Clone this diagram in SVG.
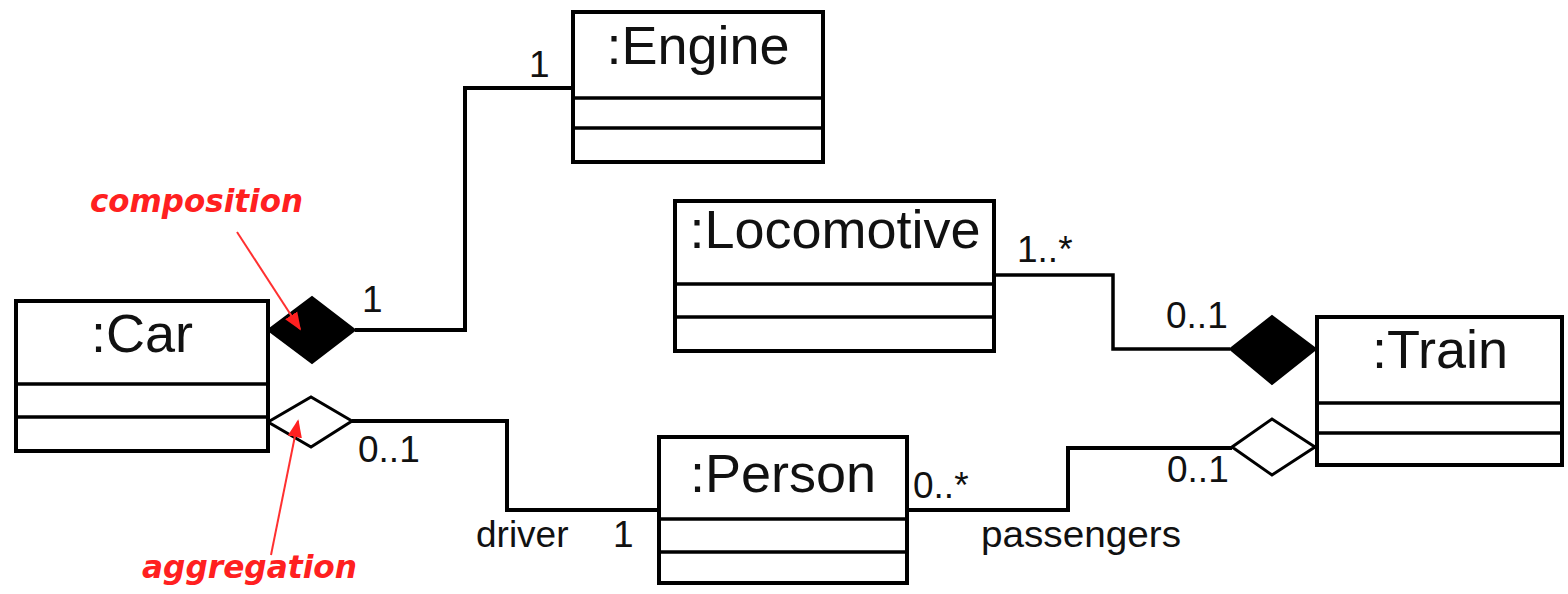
<svg xmlns="http://www.w3.org/2000/svg" width="1568" height="594" viewBox="0 0 1568 594">
<style>
.box{fill:#fff;stroke:#000;stroke-width:4}
.sep{stroke:#000;stroke-width:3.5}
.name{font-family:"Liberation Sans",Arial,sans-serif;font-size:54px;fill:#111;text-anchor:middle}
.lbl{font-family:"Liberation Sans",Arial,sans-serif;font-size:37px;fill:#111}
.conn{fill:none;stroke:#000;stroke-width:4;stroke-linejoin:miter}
.fd{fill:#000;stroke:#000;stroke-width:2}
.od{fill:#fff;stroke:#000;stroke-width:3}
.note{font-family:"Comic Sans MS","DejaVu Sans",sans-serif;font-weight:bold;font-style:italic;font-size:32px;fill:#ff2020}
.arrow{stroke:#ff3030;stroke-width:2;fill:none}
</style>
<defs>
<marker id="rhl" viewBox="0 0 10 10" refX="9" refY="5" markerWidth="18" markerHeight="18" markerUnits="userSpaceOnUse" orient="auto">
<path d="M0,1 L10,5 L0,9 z" fill="#ff2020"/>
</marker>
</defs>
<rect width="1568" height="594" fill="#fff"/>

<g id="connectors">
<polyline class="conn" points="355,330 465,330 465,88 573,88"/>
<polyline class="conn" points="352,421 507,421 507,510 659,510"/>
<polyline class="conn" style="stroke-width:3.5" points="994,275 1113,275 1113,349 1230,349"/>
<polyline class="conn" points="907,510 1068,510 1068,448 1232,448"/>
<polygon class="fd" points="268,330 312,297 355,330 312,363"/>
<polygon class="od" points="268,422 311,397 352,421 311,447"/>
<polygon class="fd" points="1230,349 1272,316 1316,349 1272,384"/>
<polygon class="od" points="1232,447 1272,419 1315,447 1272,475"/>
<text class="lbl" x="362" y="312">1</text>
<text class="lbl" x="529" y="77">1</text>
<text class="lbl" x="358" y="462">0..1</text>
<text class="lbl" x="476" y="547">driver</text>
<text class="lbl" x="613" y="547">1</text>
<text class="lbl" x="1017" y="262">1..*</text>
<text class="lbl" x="1166" y="328">0..1</text>
<text class="lbl" x="913" y="498">0..*</text>
<text class="lbl" x="1167" y="482">0..1</text>
<text class="lbl" x="981" y="547" textLength="200" lengthAdjust="spacingAndGlyphs">passengers</text>
</g>

<g id="engine">
<rect class="box" x="573" y="12" width="250" height="150"/>
<line class="sep" x1="573" y1="98" x2="823" y2="98"/>
<line class="sep" x1="573" y1="128" x2="823" y2="128"/>
<text class="name" x="698" y="64">:Engine</text>
</g>

<g id="car">
<rect class="box" x="16" y="301" width="252" height="150"/>
<line class="sep" x1="16" y1="384" x2="268" y2="384"/>
<line class="sep" x1="16" y1="417" x2="268" y2="417"/>
<text class="name" x="142" y="352">:Car</text>
</g>

<g id="locomotive">
<rect class="box" x="675" y="201" width="319" height="150"/>
<line class="sep" x1="675" y1="284" x2="994" y2="284"/>
<line class="sep" x1="675" y1="317" x2="994" y2="317"/>
<text class="name" x="835" y="248">:Locomotive</text>
</g>

<g id="train">
<rect class="box" x="1317" y="317" width="245" height="148"/>
<line class="sep" x1="1317" y1="403" x2="1562" y2="403"/>
<line class="sep" x1="1317" y1="433" x2="1562" y2="433"/>
<text class="name" x="1440" y="368">:Train</text>
</g>

<g id="person">
<rect class="box" x="659" y="437" width="248" height="146"/>
<line class="sep" x1="659" y1="519" x2="907" y2="519"/>
<line class="sep" x1="659" y1="552" x2="907" y2="552"/>
<text class="name" x="783" y="492">:Person</text>
</g>

<g id="notes">
<text class="note" x="90" y="212" textLength="213" lengthAdjust="spacingAndGlyphs">composition</text>
<line class="arrow" x1="237" y1="232" x2="300" y2="329" marker-end="url(#rhl)"/>
<text class="note" x="142" y="578" textLength="215" lengthAdjust="spacingAndGlyphs">aggregation</text>
<line class="arrow" x1="271" y1="555" x2="298" y2="421" marker-end="url(#rhl)"/>
</g>
</svg>
